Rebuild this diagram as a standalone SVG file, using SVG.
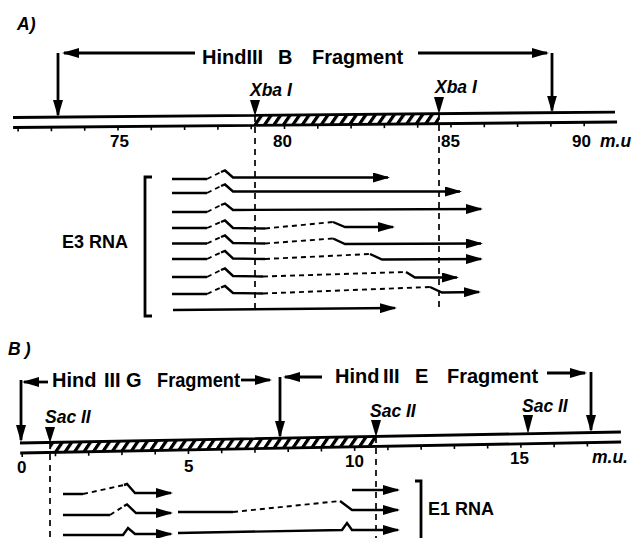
<svg xmlns="http://www.w3.org/2000/svg" width="632" height="538" viewBox="0 0 632 538">
<defs>
<marker id="ah" viewBox="0 0 17 10" refX="15" refY="5" markerWidth="17" markerHeight="10" markerUnits="userSpaceOnUse" orient="auto"><path d="M0,0 L17,5 L0,10 z" fill="#000"/></marker>
<pattern id="hatch" patternUnits="userSpaceOnUse" width="9.5" height="12" patternTransform="skewX(-35)"><rect width="9.5" height="12" fill="#fff"/><rect width="4" height="12" fill="#000"/></pattern>
<style>
.t{font-family:"Liberation Sans",Arial,Helvetica,sans-serif;font-weight:bold;fill:#000}
.big{font-size:20px}
.it{font-style:italic;font-size:17.5px}
.num{font-size:17px}
.ln{stroke:#000;stroke-width:2.8;fill:none}
.rna{stroke:#000;stroke-width:2.4;fill:none}
.dash{stroke:#000;stroke-width:1.9;fill:none;stroke-dasharray:5 4}
.vd{stroke:#000;stroke-width:1.7;fill:none;stroke-dasharray:6 5}
.tick{stroke:#000;stroke-width:1.6;fill:none}
.tri{fill:#000}
</style>
</defs>
<rect width="632" height="538" fill="#fff"/>

<!-- ===== Panel A ===== -->
<g id="panelA-label"><text class="t it" x="17" y="30" font-size="18">A)</text></g>

<g id="panelA-fragment">
  <text class="t big" x="202" y="64">HindIII</text>
  <text class="t big" x="278" y="64">B</text>
  <text class="t big" x="312" y="64">Fragment</text>
</g>

<g id="panelA-axis" transform="rotate(-0.52 13 117.5)">
  <rect x="254" y="117.5" width="185" height="10" fill="url(#hatch)"/>
  <path class="ln" d="M13,117.5 H615 M13,127.5 H617"/>
  <path class="tick" d="M18,127.5 v4 M51.3,127.5 v4 M84.6,127.5 v4 M117.9,127.5 v4 M151.2,127.5 v4 M184.5,127.5 v4 M217.8,127.5 v4 M251.1,127.5 v4 M284.4,127.5 v4 M317.7,127.5 v4 M351,127.5 v4 M384.3,127.5 v4 M417.6,127.5 v4 M450.9,127.5 v4 M484.2,127.5 v4 M517.5,127.5 v4 M550.8,127.5 v4 M584.1,127.5 v4"/>
</g>

<g id="panelA-scale">
  <text class="t num" x="110" y="147">75</text>
  <text class="t num" x="273" y="147">80</text>
  <text class="t num" x="441" y="147">85</text>
  <text class="t num" x="572" y="147">90</text>
  <text class="t it" x="600" y="147" font-size="16">m.u</text>
</g>

<g id="xbaI-1">
  <text class="t it" x="250" y="96">Xba I</text>
  <polygon class="tri" points="250,100 260,100 255,116"/>
</g>
<g id="xbaI-2">
  <text class="t it" x="435" y="93">Xba I</text>
  <polygon class="tri" points="434,97 444,97 439,114"/>
</g>

<g id="e3-label">
  <path class="ln" d="M152,177 H145 V316 H152"/>
  <text class="t" x="62" y="248" font-size="17.5" textLength="66" lengthAdjust="spacingAndGlyphs">E3 RNA</text>
</g>

<g id="connectors-A">
  <path class="ln" marker-end="url(#ah)" d="M195,53 H64"/>
  <path class="ln" marker-end="url(#ah)" d="M58,53 V115"/>
  <path class="ln" marker-end="url(#ah)" d="M418,53 H547"/>
  <path class="ln" marker-end="url(#ah)" d="M552,53 V110.5"/>
  <path class="vd" d="M255,116 V312"/>
  <path class="vd" d="M439,114 V308"/>
</g>

<g id="e3-rna">
  <path class="rna" marker-end="url(#ah)" d="M172,179 H207 M221,172 L225,170.5 L233,177.5 H388"/>
  <path class="dash" d="M207,179 L221,172"/>

  <path class="rna" marker-end="url(#ah)" d="M172,193 H207 M221,186 L225,184.5 L233,191.5 H460"/>
  <path class="dash" d="M207,193 L221,186"/>

  <path class="rna" marker-end="url(#ah)" d="M172,212 H207 M221,205 L225,203.5 L233,210 L481,209"/>
  <path class="dash" d="M207,212 L221,205"/>

  <path class="rna" marker-end="url(#ah)" d="M172,228 H207 M221,222 L225,220.5 L233,228 L265,228.5 M333,222 L345,227 H393"/>
  <path class="dash" d="M207,228 L221,222 M265,228.5 L333,222"/>

  <path class="rna" marker-end="url(#ah)" d="M172,243.5 H207 M221,237 L225,235.5 L233,243 L265,243.5 M333,238.5 L345,244 L481,243.5"/>
  <path class="dash" d="M207,243.5 L221,237 M265,243.5 L333,238.5"/>

  <path class="rna" marker-end="url(#ah)" d="M172,259 H207 M221,252.5 L225,251 L233,258.5 L265,259 M370,254 L382,259.5 L481,259"/>
  <path class="dash" d="M207,259 L221,252.5 M265,259 L370,254"/>

  <path class="rna" marker-end="url(#ah)" d="M172,277 H207 M221,270 L225,268.5 L233,276 L263,276.5 M406,272 L415,277.5 H457"/>
  <path class="dash" d="M207,277 L221,270 M263,276.5 L406,272"/>

  <path class="rna" marker-end="url(#ah)" d="M172,294 H207 M221,287.5 L225,286 L233,293 L263,293.5 M430,287 L442,292.5 L479,292"/>
  <path class="dash" d="M207,294 L221,287.5 M263,293.5 L430,287"/>

  <path class="rna" marker-end="url(#ah)" d="M173,310 L395,308"/>
</g>

<!-- ===== Panel B ===== -->
<g id="panelB-label"><text class="t it" x="8" y="355" font-size="18" letter-spacing="4">B)</text></g>

<g id="hindIII-G">
  <text class="t big" x="52" y="387">Hind</text>
  <text class="t big" x="104" y="387">III</text>
  <text class="t big" x="126" y="387">G</text>
  <text class="t big" x="157" y="387" textLength="83" lengthAdjust="spacingAndGlyphs">Fragment</text>
</g>
<g id="hindIII-E">
  <text class="t big" x="335" y="383">Hind</text>
  <text class="t big" x="383" y="383">III</text>
  <text class="t big" x="415" y="383">E</text>
  <text class="t big" x="447" y="383">Fragment</text>
</g>

<g id="panelB-axis" transform="rotate(-1.05 20 443)">
  <rect x="50" y="443" width="326" height="10" fill="url(#hatch)"/>
  <path class="ln" d="M20,443 H621 M20,453 H621"/>
  <path class="tick" d="M22,453 v4 M55.25,453 v4 M88.5,453 v4 M121.75,453 v4 M155,453 v4 M188.25,453 v4 M221.5,453 v4 M254.75,453 v4 M288,453 v4 M321.25,453 v4 M354.5,453 v4 M387.75,453 v4 M421,453 v4 M454.25,453 v4 M487.5,453 v4 M520.75,453 v4 M554,453 v4 M587.25,453 v4"/>
</g>

<g id="panelB-scale">
  <text class="t num" x="17" y="473">0</text>
  <text class="t num" x="184" y="472">5</text>
  <text class="t num" x="345" y="467">10</text>
  <text class="t num" x="510" y="464">15</text>
  <text class="t it" x="592" y="463" font-size="16">m.u.</text>
</g>

<g id="sacII-1">
  <text class="t it" x="45" y="423">Sac II</text>
  <polygon class="tri" points="45,427 55,427 50,443"/>
</g>
<g id="sacII-2">
  <text class="t it" x="370" y="417">Sac II</text>
  <polygon class="tri" points="371,420 381,420 376,437"/>
</g>
<g id="sacII-3">
  <text class="t it" x="522" y="412">Sac II</text>
  <polygon class="tri" points="523,415 533,415 528,434"/>
</g>

<g id="e1-label">
  <path class="ln" d="M415,481 H421 V538"/>
  <text class="t" x="428" y="515" font-size="18">E1 RNA</text>
</g>

<g id="connectors-B">
  <path class="ln" marker-end="url(#ah)" d="M48,382 H24"/>
  <path class="ln" marker-end="url(#ah)" d="M21,380 V440"/>
  <path class="ln" marker-end="url(#ah)" d="M241,380 H270"/>
  <path class="ln" marker-end="url(#ah)" d="M280,377 V436"/>
  <path class="ln" marker-end="url(#ah)" d="M322,377 H285"/>
  <path class="ln" marker-end="url(#ah)" d="M547,373 H585"/>
  <path class="ln" marker-end="url(#ah)" d="M591,372 V430"/>
  <path class="vd" d="M50,443 V538"/>
  <path class="vd" d="M376,437 V538"/>
</g>

<g id="e1-rna">
  <path class="rna" marker-end="url(#ah)" d="M63,494 H83 M124,485 L127,484 L135,493 H171"/>
  <path class="dash" d="M83,494 L124,485"/>
  <path class="rna" marker-end="url(#ah)" d="M352,490 H398"/>

  <path class="rna" marker-end="url(#ah)" d="M63,515 H110 M124,506 L127,504.5 L136,513 H171"/>
  <path class="dash" d="M110,515 L124,506"/>
  <path class="rna" marker-end="url(#ah)" d="M178,512 H233 M340,501 L352,510 H398"/>
  <path class="dash" d="M233,512 L340,501"/>

  <path class="rna" marker-end="url(#ah)" d="M63,535 H123 L128,528 L135,534 H171"/>
  <path class="rna" marker-end="url(#ah)" d="M178,533 L342,530 L347,523 L352,530 H398"/>
</g>
</svg>
